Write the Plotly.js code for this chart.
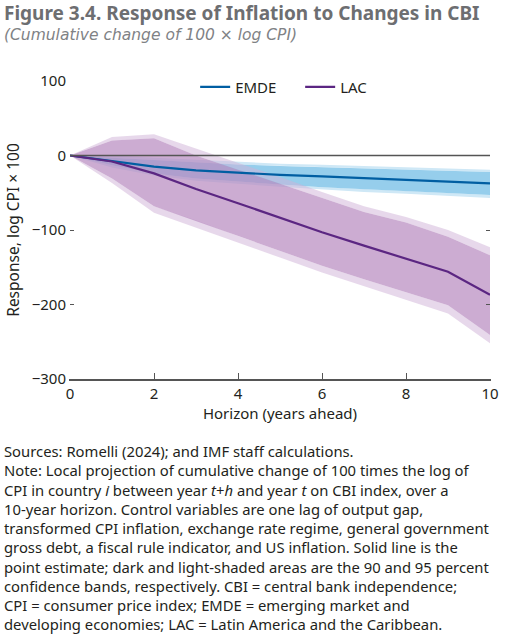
<!DOCTYPE html>
<html>
<head>
<meta charset="utf-8">
<script src="https://cdn.plot.ly/plotly-3.0.1.min.js"></script>
<style>html,body{margin:0;padding:0;background:#fff;}#chart{width:512px;height:634px;}</style>
</head>
<body>
<div id="chart"></div>
<script>
var horizon = [0,1,2,3,4,5,6,7,8,9,10];
var emde = [0,-8,-15,-20,-23,-26,-28,-30.5,-33,-35.5,-37.5];
var emde90Hi = [0,-3,-6,-9,-12,-14,-15.5,-17,-18.5,-20,-22];
var emde90Lo = [0,-13,-24,-31,-35,-39,-42.5,-45,-48,-50.5,-53];
var emde95Hi = [0,0,-3,-6,-9,-11,-12.5,-14,-15.5,-17,-19];
var emde95Lo = [0,-16,-27,-34,-38,-42,-46,-49,-51.5,-54,-57];
var lac = [0,-8,-24,-45,-64,-84,-103,-121,-139,-156,-187];
var lac90Hi = [0,20,23,0,-19,-38,-57,-76,-90,-109,-134];
var lac90Lo = [0,-31,-68,-87,-108,-128,-148,-166,-184,-201,-241];
var lac95Hi = [0,25,28.5,9.5,-10,-29,-49,-68,-82.5,-100,-123];
var lac95Lo = [0,-37,-77,-96,-117,-137,-157,-176,-194,-212,-252];
var yTicks = [-300,-200,-100,0,100];
var xTicks = [0,2,4,6,8,10];

var noteLines = [
 'Sources: Romelli (2024); and IMF staff calculations.',
 'Note: Local projection of cumulative change of 100 times the log of',
 'CPI in country <i>i</i> between year <i>t</i>+<i>h</i> and year <i>t</i> on CBI index, over a',
 '10-year horizon. Control variables are one lag of output gap,',
 'transformed CPI inflation, exchange rate regime, general government',
 'gross debt, a fiscal rule indicator, and US inflation. Solid line is the',
 'point estimate; dark and light-shaded areas are the 90 and 95 percent',
 'confidence bands, respectively. CBI = central bank independence;',
 'CPI = consumer price index; EMDE = emerging market and',
 'developing economies; LAC = Latin America and the Caribbean.'
];

function band(hi, lo, color) {
  var xs = horizon.concat(horizon.slice().reverse());
  var ys = hi.concat(lo.slice().reverse());
  return {x: xs, y: ys, type: 'scatter', mode: 'lines', fill: 'toself',
    fillcolor: color, line: {width: 0}, hoverinfo: 'skip', showlegend: false};
}

var traces = [
  band(emde95Hi, emde90Hi, 'rgb(207,232,246)'),
  band(emde90Lo, emde95Lo, 'rgb(207,232,246)'),
  band(emde90Hi, emde90Lo, 'rgb(150,206,236)'),
  band(lac95Hi, lac90Hi, 'rgba(208,178,216,0.5)'),
  band(lac90Lo, lac95Lo, 'rgba(208,178,216,0.5)'),
  band(lac90Hi, lac90Lo, 'rgba(184,140,192,0.72)'),
  {x: horizon, y: emde, type: 'scatter', mode: 'lines', name: 'EMDE',
    line: {color: 'rgb(0,94,162)', width: 2.2}},
  {x: horizon, y: lac, type: 'scatter', mode: 'lines', name: 'LAC',
    line: {color: 'rgb(91,38,130)', width: 2.2}}
];

var PH = 298, PW = 420;
var annotations = [
  {text: '<b>Figure 3.4. Response of Inflation to Changes in CBI</b>',
    xref: 'paper', yref: 'paper', x: -67/PW, y: (379 - 13)/PH, xanchor: 'left', yanchor: 'middle',
    showarrow: false, borderpad: 0, font: {size: 19, color: '#6d6e71'}},
  {text: '<i>(Cumulative change of 100 × log CPI)</i>',
    xref: 'paper', yref: 'paper', x: -67/PW, y: (379 - 35)/PH, xanchor: 'left', yanchor: 'middle',
    showarrow: false, borderpad: 0,
    font: {family: 'DejaVu Sans, sans-serif', size: 15.5, color: '#808285'}}
];
noteLines.forEach(function (t, i) {
  var cy = 451 + i * 19.25;
  annotations.push({text: t, xref: 'paper', yref: 'paper', x: -67/PW,
    y: (379 - cy)/PH, xanchor: 'left', yanchor: 'middle', align: 'left',
    showarrow: false, borderpad: 0, font: {size: 14.8, color: '#231f20'}});
});

var layout = {
  width: 512, height: 634,
  margin: {l: 70, r: 22, t: 81, b: 255},
  paper_bgcolor: '#fff', plot_bgcolor: '#fff',
  font: {family: 'Noto Sans, sans-serif', color: '#231f20', size: 14},
  showlegend: true,
  legend: {orientation: 'h', x: 0.298, xanchor: 'left', y: 1.035, yanchor: 'top',
    entrywidth: 60, entrywidthmode: 'pixels',
    font: {size: 15, color: '#231f20'}, bgcolor: 'rgba(0,0,0,0)'},
  xaxis: {range: [0, 10], tickvals: xTicks, ticks: 'inside', ticklen: 6,
    tickcolor: '#555', showline: true, linecolor: '#555', linewidth: 1.5,
    showgrid: false, zeroline: false, mirror: false,
    tickfont: {size: 15, color: '#231f20'},
    title: {text: 'Horizon (years ahead)', font: {size: 15, color: '#231f20'}, standoff: 4}},
  yaxis: {range: [-300, 100], tickvals: yTicks, ticks: 'inside', ticklen: 4,
    tickcolor: '#555', showline: true, linecolor: 'rgba(0,0,0,0)', linewidth: 1,
    showgrid: false, zeroline: false,
    mirror: 'ticks', tickfont: {size: 15, color: '#231f20'},
    title: {text: 'Response, log CPI × 100', font: {size: 15.5, color: '#231f20'}, standoff: 8}},
  shapes: [{type: 'line', xref: 'x', yref: 'y', x0: 0, x1: 10, y0: 0, y1: 0,
    line: {color: '#555', width: 1.5}, layer: 'above'}],
  annotations: annotations
};

Plotly.newPlot('chart', traces, layout, {displayModeBar: false, staticPlot: true});
</script>
</body>
</html>
